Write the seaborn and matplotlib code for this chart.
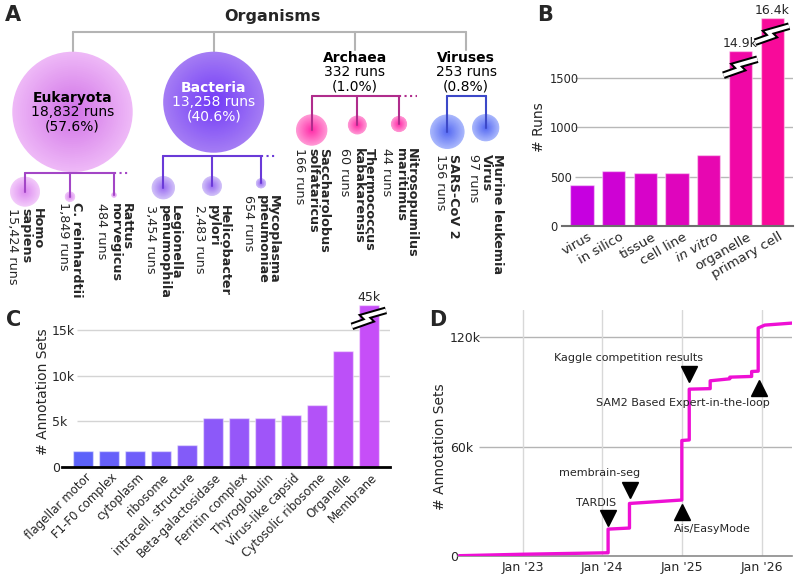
import numpy as np
import pandas as pd
import seaborn as sns
import matplotlib.pyplot as plt
import matplotlib.dates as mdates
from matplotlib.patches import Circle
from matplotlib.colors import to_rgb
from matplotlib.transforms import ScaledTranslation

sns.set_style("white")
plt.rcParams["font.family"] = ["DejaVu Sans"]

# ---------------- data ----------------
# A: organism tree
groups = ["Eukaryota", "Bacteria", "Archaea", "Viruses"]
group_runs = [18832, 13258, 332, 253]
group_pct = ["57.6%", "40.6%", "1.0%", "0.8%"]

euk_species = ["Homo\nsapiens", "C. reinhardtii", "Rattus\nnorvegicus"]
euk_runs = [15424, 1849, 484]
bac_species = ["Legionella\npenumophila", "Helicobacter\npylori", "Mycoplasma\npneumoniae"]
bac_runs = [3454, 2483, 654]
arc_species = ["Saccharolobus\nsolfataricus", "Thermococcus\nkabakarensis", "Nitrosopumilus\nmaritimus"]
arc_runs = [166, 60, 44]
vir_species = ["SARS-CoV 2", "Murine leukemia\nVirus"]
vir_runs = [156, 97]

# B: runs per sample type
sample_types = ["virus", "in silico", "tissue", "cell line", "in vitro", "organelle", "primary cell"]
sample_runs = [415, 557, 534, 540, 716, 14900, 16400]
b_break_height = {"organelle": 1770, "primary cell": 2105}   # drawn height of broken bars

# C: annotation sets per structure
structures = ["flagellar motor", "F1-F0 complex", "cytoplasm", "ribosome", "intracell. structure",
              "Beta-galactosidase", "Ferritin complex", "Thyroglobulin", "Virus-like capsid",
              "Cytosolic ribosome", "Organelle", "Membrane"]
annotation_sets = [1790, 1790, 1790, 1790, 2370, 5400, 5400, 5400, 5660, 6830, 12770, 45000]
c_break_height = {"Membrane": 17740}

# D: cumulative annotation sets over time
d_dates = ["2022-03-16", "2023-01-01", "2024-01-25", "2024-01-28", "2024-01-28", "2024-05-05",
           "2024-05-05", "2024-12-31", "2024-12-31", "2025-02-03", "2025-02-03", "2025-05-10",
           "2025-05-10", "2025-08-08", "2025-08-08", "2025-11-16", "2025-11-16", "2025-12-16",
           "2025-12-16", "2026-01-15", "2026-05-19"]
d_sets = [0, 800, 1600, 1600, 14600, 15200, 28700, 30600, 63300, 63600, 91500, 91800,
          96100, 97200, 98100, 98500, 101200, 101400, 125100, 126700, 127800]

event_names = ["TARDIS", "membrain-seg", "Ais/EasyMode", "Kaggle competition results",
               "SAM2 Based Expert-in-the-loop"]
event_dates = ["2024-01-28", "2024-05-07", "2025-01-03", "2025-02-01", "2025-12-19"]
event_marks = [20600, 36100, 24200, 99900, 92100]
event_dirs = ["v", "v", "^", "v", "^"]
event_text_offset = [(-8.4, 11.2), (-22, 12), (21.3, -12.7), (-43.7, 11.7), (-54.5, -10.4)]


# ---------------- helpers ----------------
W, H = 800, 575
fig = plt.figure(figsize=(8, 5.75), dpi=100)


def px_axes(left, top, right, bottom):
    return fig.add_axes([left / W, 1 - bottom / H, (right - left) / W, (bottom - top) / H])


def blend(c0, c1, n):
    a, b = np.array(to_rgb(c0)), np.array(to_rgb(c1))
    return [tuple(a + (b - a) * t) for t in np.linspace(0, 1, n)]


def blob(ax, x, y, r, c_in, c_out, steps=30):
    a, b = np.array(to_rgb(c_in)), np.array(to_rgb(c_out))
    for k in range(steps):
        f = 1 - k / steps
        ax.add_patch(Circle((x, y), r * f, color=tuple(a + (b - a) * f), lw=0, zorder=2))


def break_mark(ax, x, y):
    px, py = ax.transData.transform((x, y))
    pts = np.array([(-17, -7), (0, -1), (-4, 3), (17, 9)], float)
    xs, ys = pts[:, 0] + px, pts[:, 1] + py
    ax.plot(xs, ys, transform=None, color="black", lw=5.5, solid_joinstyle="miter",
            solid_capstyle="butt", zorder=5, clip_on=False)
    ax.plot(xs, ys, transform=None, color="white", lw=2.6, solid_joinstyle="miter",
            solid_capstyle="butt", zorder=6, clip_on=False)


def inside_yticks(ax, ticks, labels, left_px, ax_left_px, grid_from, color, size=9):
    ax.set_yticks(ticks)
    ax.set_yticklabels(labels, fontsize=size)
    ax.tick_params(axis="y", length=0, pad=(ax_left_px - left_px) * 0.72)
    plt.setp(ax.get_yticklabels(), ha="left")
    ax.hlines([t for t in ticks if t > 0], grid_from, 1, transform=ax.get_yaxis_transform(),
              color=color, lw=1, zorder=0)


def shift_labels(labels, dx_px):
    for lbl in labels:
        lbl.set_transform(lbl.get_transform() + ScaledTranslation(dx_px / 100, 0, fig.dpi_scale_trans))


# ---------------- A: tree ----------------
axA = px_axes(0, 0, 520, 300)
axA.set_xlim(0, 520)
axA.set_ylim(300, 0)
axA.axis("off")

gx = [72.5, 213.7, 355, 466]
axA.text(272, 17, "Organisms", ha="center", va="center", fontsize=11.5, fontweight="bold")
axA.plot([gx[0], gx[-1]], [31.7, 31.7], color="#b4b4b4", lw=1.5, zorder=1)
for x, yb in zip(gx, [52, 52, 50, 50]):
    axA.plot([x, x], [31.7, yb], color="#b4b4b4", lw=1.5, zorder=1)

big_r = 60.2
node_style = [("#d070e6", "#eeb8f7", "black"), ("#7038f6", "#a47cf4", "white")]
for i, (name, runs, pct) in enumerate(zip(groups, group_runs, group_pct)):
    if i < 2:
        r = big_r * np.sqrt(runs / group_runs[0])
        cy = 51.7 + r
        blob(axA, gx[i], cy, r, node_style[i][0], node_style[i][1])
        ys, tc = [cy - 14.3, cy, cy + 14.1], node_style[i][2]
    else:
        ys, tc = [58.3, 72.3, 86], "black"
    axA.text(gx[i], ys[0], name, ha="center", va="center", fontsize=10, fontweight="bold", color=tc, zorder=4)
    axA.text(gx[i], ys[1], f"{runs:,} runs", ha="center", va="center", fontsize=10, color=tc, zorder=4)
    axA.text(gx[i], ys[2], f"({pct})", ha="center", va="center", fontsize=10, color=tc, zorder=4)

leaf_groups = [
    dict(names=euk_species, runs=euk_runs, xs=[25, 70, 114], ys=[191.7, 196.7, 195], bar=172.7,
         dot=130, rmax=15, line="#a346c6", c_in="#dc88f0", c_out="#f3cbfa", top=[208, 202, 203]),
    dict(names=bac_species, runs=bac_runs, xs=[163.3, 212, 261], ys=[187.7, 186, 183.3], bar=155.7,
         dot=277, rmax=11.7, line="#6a3ad8", c_in="#9a6cf2", c_out="#d2c2f8", top=[205, 205, 195]),
    dict(names=arc_species, runs=arc_runs, xs=[311.7, 357.3, 399], ys=[130, 125, 124], bar=96,
         dot=417, rmax=15.7, line="#b02c8c", c_in="#ff2aa8", c_out="#ff9ad6", top=[148, 148, 148]),
    dict(names=vir_species, runs=vir_runs, xs=[447.3, 485.7], ys=[131.7, 127.7], bar=96,
         dot=None, rmax=17.3, line="#3c48c8", c_in="#5468f2", c_out="#aab8fc", top=[154, 154]),
]
for g in leaf_groups:
    axA.plot([g["xs"][0], g["xs"][-1]], [g["bar"], g["bar"]], color=g["line"], lw=1.5, zorder=3)
    if g["dot"]:
        axA.plot([g["xs"][-1], g["dot"]], [g["bar"], g["bar"]], color=g["line"], lw=1.5, ls=":", zorder=3)
    rmax_runs = max(g["runs"])
    for name, runs, x, y, top in zip(g["names"], g["runs"], g["xs"], g["ys"], g["top"]):
        r = g["rmax"] * np.sqrt(runs / rmax_runs)
        blob(axA, x, y, r, g["c_in"], g["c_out"])
        axA.plot([x, x], [g["bar"], y], color=g["line"], lw=1.5, zorder=3)
        nb = name.count("\n") + 1
        axA.text(x + 6.5, top, name, rotation=270, ha="center", va="top", multialignment="left",
                 fontsize=9.2, fontweight="bold", linespacing=0.8)
        axA.text(x - 6.5 - (nb - 1) * 6, top, f"{runs:,} runs", rotation=270, ha="center", va="top",
                 fontsize=9.2)

# ---------------- B: sample types ----------------
axB = px_axes(561.7, 14, 793, 226)
b_shown = [b_break_height.get(t, v) for t, v in zip(sample_types, sample_runs)]
b_colors = blend("#c600e0", "#f80a9a", len(sample_types))
sns.barplot(x=sample_types, y=b_shown, hue=sample_types, palette=b_colors, width=0.73,
            saturation=1, edgecolor=(1, 1, 1, 0.45), linewidth=1, legend=False, ax=axB, zorder=2)
axB.set_xlim(-0.64, 6.66)
axB.set_ylim(0, 2150)
sns.despine(ax=axB, left=True)
axB.spines["bottom"].set_color("#6e6e6e")
axB.spines["bottom"].set_linewidth(1.5)
inside_yticks(axB, [0, 500, 1000, 1500], ["0", "500", "1000", "1500"], 550, 561.7, 0.058, "#b8b8b8",
              size=8.3)
axB.set_xticks(range(len(sample_types)))
axB.set_xticklabels(sample_types, rotation=30, ha="right", rotation_mode="anchor", fontsize=9.5)
axB.tick_params(axis="x", length=0, pad=3)
for lbl in axB.get_xticklabels():
    if lbl.get_text() == "in vitro":
        lbl.set_fontstyle("italic")
shift_labels(axB.get_xticklabels(), 6)
axB.set_xlabel("")
axB.set_ylabel("# Runs", fontsize=10)
axB.yaxis.set_label_coords(-0.07, 0.467)
for i, (t, v) in enumerate(zip(sample_types, sample_runs)):
    if t in b_break_height:
        axB.text(i, b_shown[i] + 15, f"{v / 1000:.1f}k", ha="center", va="bottom", fontsize=9)
        break_mark(axB, i, b_shown[i] - 170)

# ---------------- C: structures ----------------
axC = px_axes(61.7, 303.8, 390, 467)
c_shown = [c_break_height.get(s, v) for s, v in zip(structures, annotation_sets)]
c_colors = blend("#5c62fa", "#c64ef8", len(structures))
sns.barplot(x=structures, y=c_shown, hue=structures, palette=c_colors, width=0.8,
            saturation=1, edgecolor=(1, 1, 1, 0.45), linewidth=1, legend=False, ax=axC, zorder=2)
axC.set_xlim(-0.82, 11.81)
axC.set_ylim(0, 17900)
sns.despine(ax=axC, left=True)
axC.spines["bottom"].set_color("black")
axC.spines["bottom"].set_linewidth(2)
inside_yticks(axC, [0, 5000, 10000, 15000], ["0", "5k", "10k", "15k"], 52, 61.7, 0.047, "#d4d4d4")
axC.set_xticks(range(len(structures)))
axC.set_xticklabels(structures, rotation=45, ha="right", rotation_mode="anchor", fontsize=8.5)
axC.tick_params(axis="x", length=0, pad=3)
shift_labels(axC.get_xticklabels(), 2)
axC.set_xlabel("")
axC.set_ylabel("# Annotation Sets", fontsize=10)
axC.yaxis.set_label_coords(-0.036, 0.46)
for i, (s, v) in enumerate(zip(structures, annotation_sets)):
    if s in c_break_height:
        axC.text(i, c_shown[i] + 100, f"{v / 1000:.0f}k", ha="center", va="bottom", fontsize=9)
        break_mark(axC, i, c_shown[i] - 1550)

# ---------------- D: growth over time ----------------
axD = px_axes(458, 310, 792, 555.7)
growth = pd.DataFrame({"date": pd.to_datetime(d_dates), "sets": d_sets})
sns.lineplot(data=growth, x="date", y="sets", estimator=None, sort=False, color="#ee10d4",
             lw=2.4, ax=axD, zorder=3)
axD.set_xlim(pd.Timestamp("2022-03-11"), pd.Timestamp("2026-05-20"))
axD.set_ylim(0, 135000)
sns.despine(ax=axD, left=True)
axD.spines["bottom"].set_color("#8a8a8a")
axD.spines["bottom"].set_linewidth(1.2)
inside_yticks(axD, [0, 60000, 120000], ["0", "60k", "120k"], 450, 458, 0.063, "#b4b4b4")
axD.set_xticks(pd.to_datetime(["2023-01-01", "2024-01-01", "2025-01-01", "2026-01-01"]))
axD.xaxis.set_major_formatter(mdates.DateFormatter("%b '%y"))
axD.tick_params(axis="x", length=0, pad=4, labelsize=9)
axD.grid(axis="x", color="#d8d8d8", lw=1, zorder=0)
axD.set_xlabel("")
axD.set_ylabel("# Annotation Sets", fontsize=10)
axD.yaxis.set_label_coords(-0.033, 0.442)
for name, dt, yv, m, off in zip(event_names, event_dates, event_marks, event_dirs, event_text_offset):
    d = pd.Timestamp(dt)
    axD.plot([d], [yv], marker=m, color="black", ms=11, zorder=5)
    axD.annotate(name, (d, yv), xytext=off, textcoords="offset points", ha="center",
                 va="center", fontsize=8)

# panel letters
for letter, (x, y) in zip("ABCD", [(13, 15), (545, 15), (14, 320), (438, 320)]):
    fig.text(x / W, 1 - y / H, letter, ha="center", va="center", fontsize=15, fontweight="bold")

fig.savefig("out.png", dpi=100)
